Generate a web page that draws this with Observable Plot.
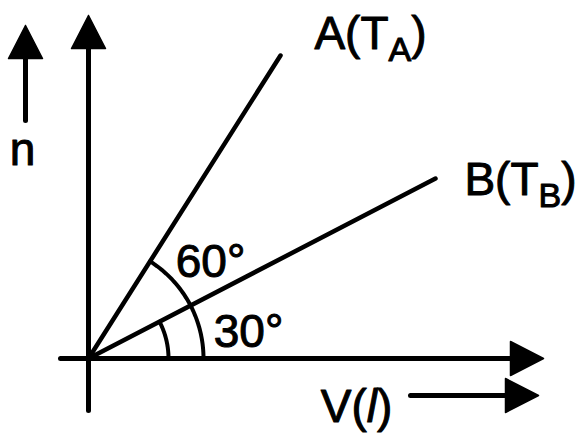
<!DOCTYPE html>
<html><head><meta charset="utf-8">
<script src="https://cdn.jsdelivr.net/npm/d3@7"></script>
<script src="https://cdn.jsdelivr.net/npm/@observablehq/plot@0.6"></script>
<style>body{margin:0;background:#fff}</style>
</head><body><div id="chart"></div>
<script>
// Lines from the origin (n vs V), end points
const lineLabels = ["A(T_A)", "B(T_B)"];
const lineEndX = [192, 347];
const lineEndY = [303, 180];
// Angle annotations
const angleLabels = ["60°", "30°"];
const arcRadii = [115, 80];
// Axes and direction indicators: [x1, y1, x2(tip), y2(tip)]
const arrowNames = ["n axis", "V axis", "n indicator", "V indicator"];
const arrowX1 = [0, -28, -63, 322];
const arrowY1 = [-52, 0, 238, -37];
const arrowX2 = [0, 455, -63, 450];
const arrowY2 = [343, 0, 333, -37];
// Text labels
const axisLabels = ["n", "V(l)"];

const lines = lineLabels.map((l, i) => ({label: l, x: lineEndX[i], y: lineEndY[i]}));
const lineSegs = lines.flatMap((d, i) => [{id: i, x: 0, y: 0}, {id: i, x: d.x, y: d.y}]);

const arcPts = [];
lines.forEach((d, i) => {
  const a1 = Math.atan2(d.y, d.x);
  const n = 40;
  for (let k = 0; k <= n; k++) {
    const a = a1 * k / n;
    arcPts.push({id: i, x: arcRadii[i] * Math.cos(a), y: arcRadii[i] * Math.sin(a)});
  }
});

const HEAD_L = 33, HEAD_W = 17;
const shafts = [], heads = [];
arrowNames.forEach((nm, i) => {
  const x1 = arrowX1[i], y1 = arrowY1[i], x2 = arrowX2[i], y2 = arrowY2[i];
  const len = Math.hypot(x2 - x1, y2 - y1);
  const ux = (x2 - x1) / len, uy = (y2 - y1) / len;
  shafts.push({id: i, x: x1, y: y1}, {id: i, x: x2 - ux * HEAD_L * 0.6, y: y2 - uy * HEAD_L * 0.6});
  const bx = x2 - ux * HEAD_L, by = y2 - uy * HEAD_L;
  heads.push(
    {id: i, x: x2, y: y2},
    {id: i, x: bx - uy * HEAD_W, y: by + ux * HEAD_W},
    {id: i, x: bx + uy * HEAD_W, y: by - ux * HEAD_W},
    {id: i, x: x2, y: y2}
  );
});

const texts = [
  {t: lineLabels[0], x: 282, y: 324},
  {t: lineLabels[1], x: 432, y: 178},
  {t: angleLabels[0], x: 122, y: 96},
  {t: angleLabels[1], x: 160, y: 26},
  {t: axisLabels[0], x: -66, y: 208},
  {t: axisLabels[1], x: 268, y: -49}
];

const font = "Liberation Sans, Arial, sans-serif";
const chart = Plot.plot({
  width: 585, height: 440, margin: 0,
  x: {domain: [-88, 497], axis: null},
  y: {domain: [-82, 358], axis: null},
  style: {background: "#fff"},
  marks: [
    Plot.line(shafts, {x: "x", y: "y", z: "id", stroke: "#000", strokeWidth: 5}),
    Plot.line(heads, {x: "x", y: "y", z: "id", fill: "#000", stroke: "#000", strokeWidth: 1.5, strokeLinejoin: "round"}),
    Plot.line(lineSegs, {x: "x", y: "y", z: "id", stroke: "#000", strokeWidth: 4.5}),
    Plot.line(arcPts, {x: "x", y: "y", z: "id", stroke: "#000", strokeWidth: 4}),
    Plot.text(texts, {x: "x", y: "y", text: "t", fontSize: 46, fontFamily: font, fill: "#000", stroke: "#000", strokeWidth: 1, textAnchor: "middle"})
  ]
});
document.getElementById("chart").appendChild(chart);

// subscripts and italic l
const ns = "http://www.w3.org/2000/svg";
chart.querySelectorAll("text").forEach(el => {
  const s = el.textContent;
  if (s.includes("_")) {
    const m = s.match(/^(.*)_(.)(.*)$/);
    el.textContent = "";
    const t1 = document.createElementNS(ns, "tspan"); t1.textContent = m[1];
    const t2 = document.createElementNS(ns, "tspan"); t2.textContent = m[2];
    t2.setAttribute("dy", "12"); t2.setAttribute("font-size", "34");
    const t3 = document.createElementNS(ns, "tspan"); t3.textContent = m[3];
    t3.setAttribute("dy", "-12");
    el.append(t1, t2, t3);
  } else if (s === "V(l)") {
    el.textContent = "";
    const a = document.createElementNS(ns, "tspan"); a.textContent = "V(";
    const b = document.createElementNS(ns, "tspan"); b.textContent = "l"; b.setAttribute("font-style", "italic");
    const c = document.createElementNS(ns, "tspan"); c.textContent = ")";
    el.append(a, b, c);
  }
});
</script></body></html>
